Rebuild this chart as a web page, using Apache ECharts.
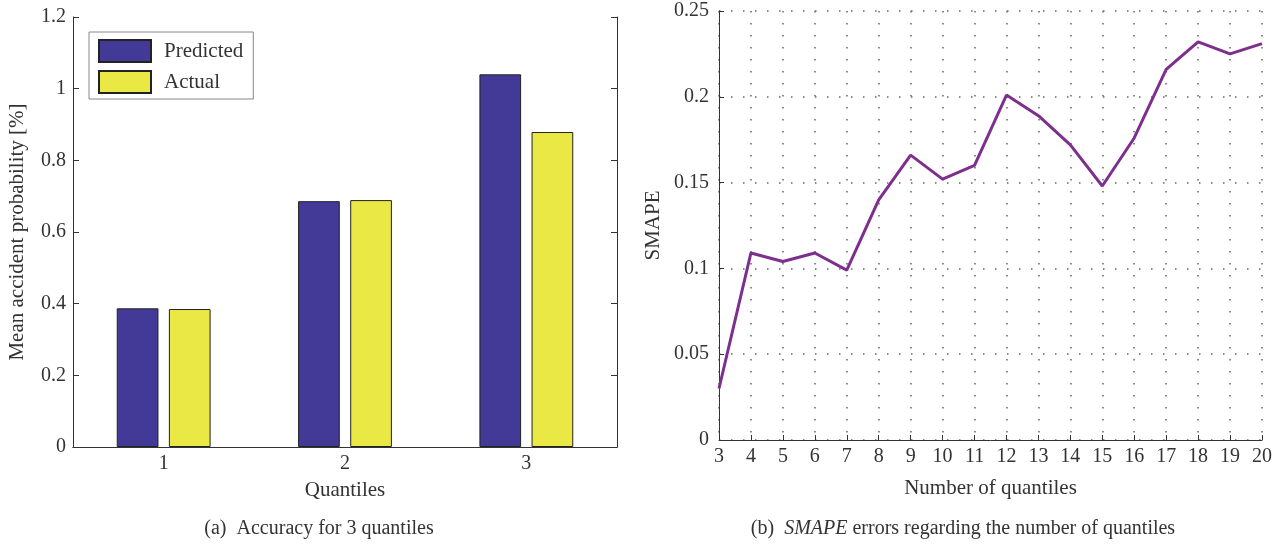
<!DOCTYPE html>
<html>
<head>
    <meta charset="UTF-8">
    <title>Accuracy and SMAPE</title>
    <script type="text/javascript" src="https://cdn.jsdelivr.net/npm/echarts@6/dist/echarts.min.js"></script>
</head>
<body style="margin: 0;overflow: hidden;background: #fff;">
<div id="chart" style="width: 1280px;height: 544px;"></div>
<script type="text/javascript">
    // left panel: mean accident probability per quantile
    var quantiles = ['1', '2', '3'];
    var predicted = [0.387, 0.686, 1.040];
    var actual = [0.385, 0.689, 0.879];

    // right panel: SMAPE vs number of quantiles
    var numQuantiles = [3, 4, 5, 6, 7, 8, 9, 10, 11, 12, 13, 14, 15, 16, 17, 18, 19, 20];
    var smape = [0.030, 0.109, 0.104, 0.109, 0.099, 0.140, 0.166, 0.152, 0.160, 0.201,
        0.189, 0.172, 0.148, 0.176, 0.216, 0.232, 0.225, 0.231];

    var font = 'Liberation Serif';
    var ink = '#333';
    var dotted = {color: '#666', width: 1.5, type: [1.5, 10.5]};

    var smapeData = [];
    for (var i = 0; i < numQuantiles.length; i++) {
        smapeData.push([numQuantiles[i], smape[i]]);
    }

    var chart = echarts.init(document.getElementById('chart'));
    var option = {
        animation: false,
        textStyle: {fontFamily: font, color: ink},
        title: [{
            text: '(a)  Accuracy for 3 quantiles',
            left: 314, top: 514, textAlign: 'center',
            textStyle: {fontFamily: font, fontSize: 20, fontWeight: 'normal', color: ink}
        }, {
            text: '(b)  {i|SMAPE} errors regarding the number of quantiles',
            left: 958, top: 514, textAlign: 'center',
            textStyle: {
                fontFamily: font, fontSize: 20, fontWeight: 'normal', color: ink,
                rich: {i: {fontFamily: font, fontSize: 20, fontStyle: 'italic', color: ink}}
            }
        }],
        legend: {
            data: ['Predicted', 'Actual'],
            orient: 'vertical',
            left: 89, top: 32,
            padding: [7, 10, 5, 9],
            icon: 'rect',
            itemWidth: 52, itemHeight: 22, itemGap: 7,
            borderColor: '#888', borderWidth: 1, borderRadius: 0,
            backgroundColor: '#fff',
            textStyle: {fontFamily: font, fontSize: 21, color: ink, padding: [0, 0, 0, 8]}
        },
        grid: [
            {left: 73, right: 663, top: 17, bottom: 97},
            {left: 719, right: 18, top: 11, bottom: 104}
        ],
        xAxis: [{
            type: 'category', gridIndex: 0, data: quantiles,
            name: 'Quantiles', nameLocation: 'middle', nameGap: 33,
            nameTextStyle: {fontFamily: font, fontSize: 21, color: ink},
            axisLine: {lineStyle: {color: ink}},
            axisTick: {inside: true, length: 5, alignWithLabel: true, lineStyle: {color: ink}},
            axisLabel: {fontFamily: font, fontSize: 20, color: ink, margin: 7}
        }, {
            type: 'category', gridIndex: 0, data: quantiles, position: 'top',
            axisLine: {lineStyle: {color: ink}},
            axisTick: {inside: true, length: 5, alignWithLabel: true, lineStyle: {color: ink}},
            axisLabel: {show: false}
        }, {
            type: 'value', gridIndex: 1, min: 3, max: 20, interval: 1,
            name: 'Number of quantiles', nameLocation: 'middle', nameGap: 38,
            nameTextStyle: {fontFamily: font, fontSize: 21, color: ink},
            axisLine: {show: true, onZero: false, lineStyle: {color: ink}},
            axisTick: {show: true, inside: true, length: 5, lineStyle: {color: ink}},
            axisLabel: {fontFamily: font, fontSize: 20, color: ink, margin: 7},
            splitLine: {show: true, lineStyle: dotted}
        }],
        yAxis: [{
            type: 'value', gridIndex: 0, min: 0, max: 1.2, interval: 0.2,
            name: 'Mean accident probability [%]', nameLocation: 'middle', nameGap: 45,
            nameTextStyle: {fontFamily: font, fontSize: 21, color: ink},
            axisLine: {show: true, lineStyle: {color: ink}},
            axisTick: {show: true, inside: true, length: 6, lineStyle: {color: ink}},
            axisLabel: {fontFamily: font, fontSize: 20, color: ink, margin: 7},
            splitLine: {show: false}
        }, {
            type: 'value', gridIndex: 0, min: 0, max: 1.2, interval: 0.2, position: 'right',
            axisLine: {show: true, lineStyle: {color: ink}},
            axisTick: {show: true, inside: true, length: 6, lineStyle: {color: ink}},
            axisLabel: {show: false},
            splitLine: {show: false}
        }, {
            type: 'value', gridIndex: 1, min: 0, max: 0.25, interval: 0.05,
            name: 'SMAPE', nameLocation: 'middle', nameGap: 55,
            nameTextStyle: {fontFamily: font, fontSize: 21, color: ink},
            axisLine: {show: true, lineStyle: {color: ink}},
            axisTick: {show: true, inside: true, length: 5, lineStyle: {color: ink}},
            axisLabel: {fontFamily: font, fontSize: 20, color: ink, margin: 10},
            splitLine: {show: true, lineStyle: dotted}
        }],
        series: [{
            name: 'Predicted', type: 'bar', xAxisIndex: 0, yAxisIndex: 0,
            data: predicted, barWidth: '23%', barGap: '25%',
            itemStyle: {color: '#433996', borderColor: '#222', borderWidth: 1}
        }, {
            name: 'Actual', type: 'bar', xAxisIndex: 0, yAxisIndex: 0,
            data: actual, barWidth: '23%', barGap: '25%',
            itemStyle: {color: '#EAE845', borderColor: '#222', borderWidth: 1}
        }, {
            name: 'SMAPE', type: 'line', xAxisIndex: 2, yAxisIndex: 2,
            data: smapeData, showSymbol: false, symbol: 'none',
            lineStyle: {color: '#7E2F8E', width: 3}
        }]
    };
    chart.setOption(option);
</script>
</body>
</html>
